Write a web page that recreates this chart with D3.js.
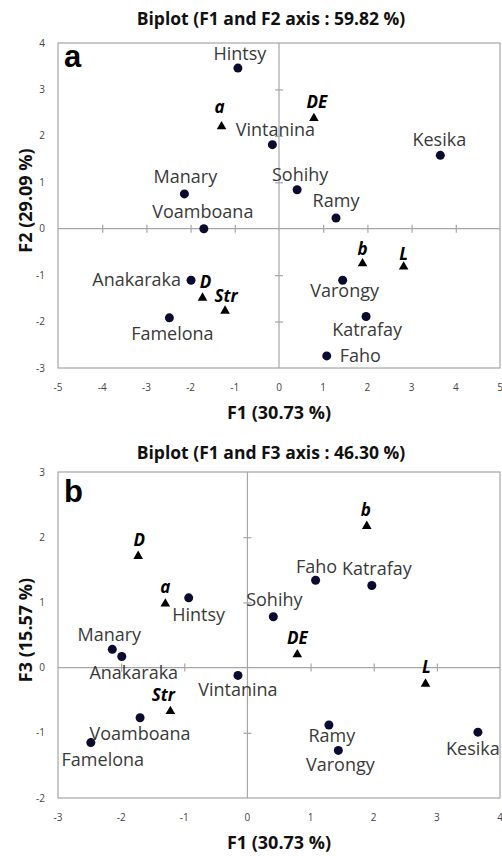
<!DOCTYPE html>
<html>
<head>
<meta charset="utf-8">
<script src="https://cdn.jsdelivr.net/npm/d3@7"></script>
<style>
  html, body { margin: 0; padding: 0; background: #fff; }
  svg { display: block; }
</style>
</head>
<body>
<svg id="chart" width="502" height="856"></svg>
<script>
// ---------- DATA ----------
const observations = ["Hintsy", "Vintanina", "Kesika", "Manary", "Sohihy", "Ramy",
  "Voamboana", "Anakaraka", "Varongy", "Katrafay", "Famelona", "Faho"];
const obsF1 = [-0.93, -0.15, 3.65, -2.14, 0.41, 1.29, -1.70, -1.99, 1.44, 1.97, -2.48, 1.08];
const obsF2 = [3.46, 1.81, 1.58, 0.75, 0.84, 0.23, 0.00, -1.11, -1.11, -1.89, -1.92, -2.74];
const obsF3 = [1.07, -0.12, -0.99, 0.28, 0.78, -0.88, -0.77, 0.17, -1.27, 1.26, -1.15, 1.34];

const variables = ["a", "DE", "b", "L", "D", "Str"];
const varF1 = [-1.30, 0.79, 1.89, 2.82, -1.73, -1.22];
const varF2 = [2.20, 2.38, -0.75, -0.82, -1.49, -1.77];
const varF3 = [0.98, 0.20, 2.17, -0.25, 1.71, -0.67];

const xTicksA = [-5, -4, -3, -2, -1, 0, 1, 2, 3, 4, 5];
const yTicksA = [-3, -2, -1, 0, 1, 2, 3, 4];
const xTicksB = [-3, -2, -1, 0, 1, 2, 3, 4];
const yTicksB = [-2, -1, 0, 1, 2, 3];

const titleA = "Biplot (F1 and F2 axis : 59.82 %)";
const titleB = "Biplot (F1 and F3 axis : 46.30 %)";
const xTitle = "F1 (30.73 %)";
const yTitleA = "F2 (29.09 %)";
const yTitleB = "F3 (15.57 %)";

// ---------- LABEL LAYOUT (offsets from marker: dx, baseline dy, anchor) ----------
const labelLayoutA = {
  Hintsy: [2, -8, "middle"], Vintanina: [3, -9, "middle"], Kesika: [-1, -9, "middle"],
  Manary: [1, -11, "middle"], Sohihy: [3, -9, "middle"], Ramy: [0, -11, "middle"],
  Voamboana: [-1, -11, "middle"], Anakaraka: [-10, 6, "end"], Varongy: [2, 17, "middle"],
  Katrafay: [1, 20, "middle"], Famelona: [3, 22, "middle"], Faho: [13, 6, "start"],
  a: [-2, -14, "middle"], DE: [3, -10, "middle"], b: [0, -9, "middle"],
  L: [0, -7, "middle"], D: [3, -10, "middle"], Str: [1, -9, "middle"]
};
const labelLayoutB = {
  Hintsy: [10, 23, "middle"], Vintanina: [0, 21, "middle"], Kesika: [-5, 23, "middle"],
  Manary: [-3, -8, "middle"], Sohihy: [1, -11, "middle"], Ramy: [3, 17, "middle"],
  Voamboana: [0, 22, "middle"], Anakaraka: [12, 22, "middle"], Varongy: [2, 21, "middle"],
  Katrafay: [5, -10, "middle"], Famelona: [12, 23, "middle"], Faho: [1, -7, "middle"],
  a: [0, -11, "middle"], DE: [0, -11, "middle"], b: [-1, -10, "middle"],
  L: [1, -11, "middle"], D: [1, -10, "middle"], Str: [-7, -10, "middle"]
};

const svg = d3.select("#chart");
const FONT = "'Open Sans', 'Noto Sans', sans-serif";

function panel(cfg) {
  const x = d3.scaleLinear().domain(cfg.xDomain).range([58, 500]);
  const y = d3.scaleLinear().domain(cfg.yDomain).range([cfg.bottom, cfg.top]);
  const g = svg.append("g");

  // title
  g.append("text").attr("x", 271).attr("y", cfg.titleY)
    .attr("text-anchor", "middle").attr("font-family", FONT)
    .attr("font-weight", 700).attr("font-size", 17.5).attr("fill", "#111")
    .text(cfg.title);

  // frame
  g.append("rect").attr("x", x.range()[0]).attr("y", cfg.top)
    .attr("width", x.range()[1] - x.range()[0]).attr("height", cfg.bottom - cfg.top)
    .attr("fill", "none").attr("stroke", "#a6a6a6").attr("stroke-width", 1.2);

  // zero axes with ticks
  const xAxis = d3.axisBottom(x).tickValues(cfg.xTicks.filter(d => d !== 0 && d !== cfg.xDomain[0] && d !== cfg.xDomain[1]))
    .tickSizeInner(8).tickSizeOuter(0).tickFormat("");
  const xa = g.append("g").attr("transform", `translate(0,${y(0) - 4})`).call(xAxis);
  xa.select(".domain").remove();
  xa.selectAll(".tick line").attr("stroke", "#a6a6a6").attr("stroke-width", 1.2);
  g.append("line").attr("x1", x.range()[0]).attr("x2", x.range()[1])
    .attr("y1", y(0)).attr("y2", y(0)).attr("stroke", "#a6a6a6").attr("stroke-width", 1.2);

  const yAxis = d3.axisRight(y).tickValues(cfg.yTicks.filter(d => d !== 0 && d !== cfg.yDomain[0] && d !== cfg.yDomain[1]))
    .tickSizeInner(8).tickSizeOuter(0).tickFormat("");
  const ya = g.append("g").attr("transform", `translate(${x(0) - 4},0)`).call(yAxis);
  ya.select(".domain").remove();
  ya.selectAll(".tick line").attr("stroke", "#a6a6a6").attr("stroke-width", 1.2);
  g.append("line").attr("x1", x(0)).attr("x2", x(0))
    .attr("y1", cfg.top).attr("y2", cfg.bottom).attr("stroke", "#a6a6a6").attr("stroke-width", 1.2);

  // tick labels (outside frame)
  g.selectAll(".xt").data(cfg.xTicks).join("text")
    .attr("x", d => x(d)).attr("y", cfg.bottom + 23)
    .attr("text-anchor", "middle").attr("font-family", FONT).attr("font-size", 10)
    .attr("fill", "#444").text(d => d);
  g.selectAll(".yt").data(cfg.yTicks).join("text")
    .attr("x", 45).attr("y", d => y(d) + 3.5)
    .attr("text-anchor", "end").attr("font-family", FONT).attr("font-size", 10)
    .attr("fill", "#444").text(d => d);

  // axis titles
  g.append("text").attr("x", 279).attr("y", cfg.bottom + 51)
    .attr("text-anchor", "middle").attr("font-family", FONT)
    .attr("font-weight", 700).attr("font-size", 18).attr("fill", "#111")
    .text(xTitle);
  g.append("text").attr("transform", `translate(32,${(cfg.top + cfg.bottom) / 2 - 5}) rotate(-90)`)
    .attr("text-anchor", "middle").attr("font-family", FONT)
    .attr("font-weight", 700).attr("font-size", 18).attr("fill", "#111")
    .text(cfg.yTitle);

  // panel letter
  g.append("text").attr("x", 64).attr("y", cfg.letterY)
    .attr("font-family", "'Liberation Sans', Arial, sans-serif").attr("font-weight", 700)
    .attr("font-size", 31).attr("fill", "#000").text(cfg.letter);

  // observations
  const obs = observations.map((n, i) => ({ name: n, fx: obsF1[i], fy: cfg.obsY[i] }));
  g.selectAll(".obs").data(obs).join("circle")
    .attr("cx", d => x(d.fx)).attr("cy", d => y(d.fy)).attr("r", 4.5)
    .attr("fill", "#0b0b30");
  g.selectAll(".obsl").data(obs).join("text")
    .attr("x", d => x(d.fx) + cfg.layout[d.name][0])
    .attr("y", d => y(d.fy) + cfg.layout[d.name][1])
    .attr("text-anchor", d => cfg.layout[d.name][2])
    .attr("font-family", FONT).attr("font-size", 18).attr("fill", "#3a3a3a")
    .text(d => d.name);

  // variables
  const vars = variables.map((n, i) => ({ name: n, fx: varF1[i], fy: cfg.varY[i] }));
  g.selectAll(".var").data(vars).join("path")
    .attr("d", d3.symbol(d3.symbolTriangle, 40))
    .attr("transform", d => `translate(${x(d.fx)},${y(d.fy)})`)
    .attr("fill", "#000");
  g.selectAll(".varl").data(vars).join("text")
    .attr("x", d => x(d.fx) + cfg.layout[d.name][0])
    .attr("y", d => y(d.fy) + cfg.layout[d.name][1])
    .attr("text-anchor", d => cfg.layout[d.name][2])
    .attr("font-family", FONT).attr("font-size", 17).attr("font-weight", 700)
    .attr("font-style", "italic").attr("fill", "#000")
    .text(d => d.name);
}

panel({
  xDomain: [-5, 5], yDomain: [-3, 4], top: 43, bottom: 368,
  xTicks: xTicksA, yTicks: yTicksA, title: titleA, titleY: 25,
  yTitle: yTitleA, letter: "a", letterY: 67,
  obsY: obsF2, varY: varF2, layout: labelLayoutA
});
panel({
  xDomain: [-3, 4], yDomain: [-2, 3], top: 472, bottom: 798,
  xTicks: xTicksB, yTicks: yTicksB, title: titleB, titleY: 459,
  yTitle: yTitleB, letter: "b", letterY: 502,
  obsY: obsF3, varY: varF3, layout: labelLayoutB
});
</script>
</body>
</html>
